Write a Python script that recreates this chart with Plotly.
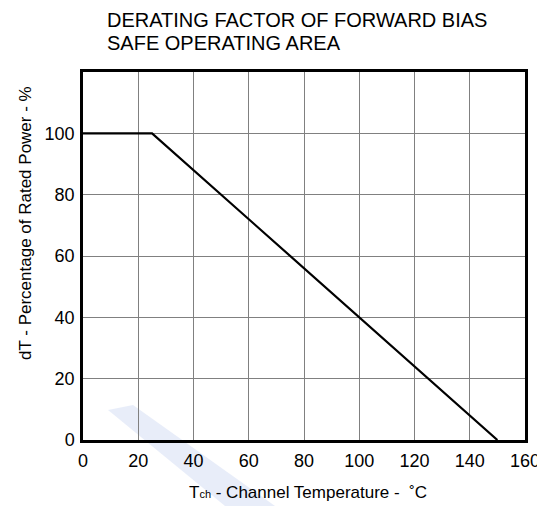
import plotly.graph_objects as go

# Data
temperature_c = [0, 25, 150]
rated_power_pct = [100, 100, 0]
x_ticks = [0, 20, 40, 60, 80, 100, 120, 140, 160]
y_ticks = [0, 20, 40, 60, 80, 100]

fig = go.Figure()
fig.add_trace(go.Scatter(
    x=temperature_c, y=rated_power_pct, mode="lines",
    line=dict(color="black", width=2.2), showlegend=False, hoverinfo="skip"
))

font = "Liberation Sans, Arial, sans-serif"
OFF = 8  # page body margin in the browser
W, H = 545 - OFF, 506 - OFF
L, R, T, B = 83 - OFF, 20, 72 - OFF, 66
pw, ph = W - L - R, H - T - B


def px(x):
    return (x - OFF - L) / pw


def py(y):
    return (H - B - (y - OFF)) / ph


fig.update_layout(
    width=W, height=H,
    margin=dict(l=L, r=R, t=T, b=B, autoexpand=False),
    paper_bgcolor="white", plot_bgcolor="white",
    font=dict(family=font, color="black", size=18),
    xaxis=dict(
        range=[0, 160], tickvals=x_ticks, ticktext=[str(v) for v in x_ticks],
        showgrid=True, gridcolor="#808080", gridwidth=1,
        showline=True, linecolor="black", linewidth=2.5, mirror=True,
        ticks="", zeroline=False, tickfont=dict(size=18), automargin=False,
        ticklabelstandoff=3,
    ),
    yaxis=dict(
        range=[0, 120], tickvals=y_ticks, ticktext=[str(v) for v in y_ticks],
        showgrid=True, gridcolor="#808080", gridwidth=1,
        showline=True, linecolor="black", linewidth=2.5, mirror=True,
        ticks="", zeroline=False, tickfont=dict(size=18), automargin=False,
        ticklabelstandoff=2,
    ),
)

ann = dict(xref="paper", yref="paper", showarrow=False)
f20 = dict(family=font, color="black", size=20)
f17 = dict(family=font, color="black", size=17)
fig.add_annotation(text="DERATING FACTOR OF FORWARD BIAS", x=px(105), y=py(20.5),
                   xanchor="left", yanchor="middle", font=f20, **ann)
fig.add_annotation(text="SAFE OPERATING AREA", x=px(105), y=py(43),
                   xanchor="left", yanchor="middle", font=f20, **ann)
fig.add_annotation(text="T<span style=\"font-size:11px\">ch</span> - Channel Temperature -  \u02daC",
                   x=px(308), y=py(492), xanchor="center", yanchor="middle", font=f17, **ann)
fig.add_annotation(text="dT - Percentage of Rated Power - %", x=px(25), y=py(223), textangle=-90,
                   xanchor="center", yanchor="middle", font=f17, **ann)

# faint watermark band (decoration)
fig.add_shape(type="path", xref="paper", yref="paper", layer="below",
              path=f"M {px(108)} {py(410)} L {px(133)} {py(405)} L {px(275)} {py(506)} L {px(225)} {py(506)} Z",
              fillcolor="rgba(222,230,246,0.7)", line=dict(width=0))

fig.write_html("out.html")
